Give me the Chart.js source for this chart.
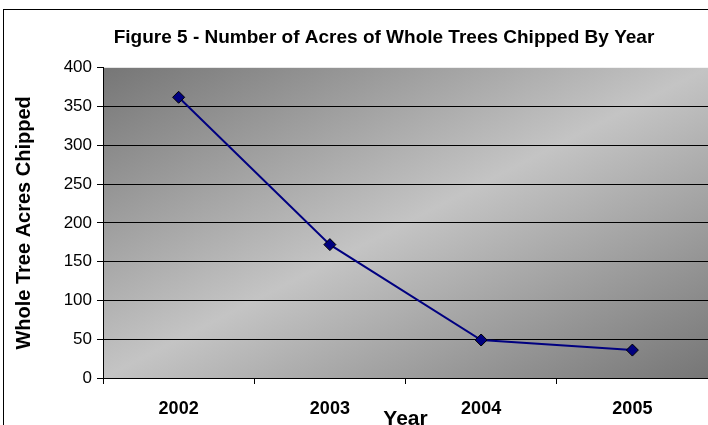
<!DOCTYPE html>
<html>
<head>
<meta charset="utf-8">
<script src="https://cdn.jsdelivr.net/npm/chart.js@4"></script>
<style>
  html, body { margin: 0; padding: 0; background: #fff; }
  #wrap { width: 708px; height: 425px; }
</style>
</head>
<body>
<div id="wrap"><canvas id="myChart" width="708" height="425"></canvas></div>
<script>
var years = ['2002', '2003', '2004', '2005'];
var acres = [362, 172, 49, 36];
var yTicks = [0, 50, 100, 150, 200, 250, 300, 350, 400];

var fontFamily = '"Liberation Sans", Arial, sans-serif';

// grey diagonal fill behind the plot + outer frame, title moved over
var chartDecor = {
  id: 'chartDecor',
  afterLayout: function (chart) {
    if (chart.titleBlock) {
      chart.titleBlock.left = 60;
      chart.titleBlock.right = 708;
    }
  },
  beforeDraw: function (chart) {
    var c = chart.ctx, a = chart.chartArea;
    c.save();
    c.translate(a.left, a.top);
    c.scale(a.right - a.left, a.bottom - a.top);
    var g = c.createLinearGradient(0, 0, 1, 1);
    g.addColorStop(0, '#767676');
    g.addColorStop(0.5, '#c4c4c4');
    g.addColorStop(1, '#767676');
    c.fillStyle = g;
    c.fillRect(0, 0, 1, 1);
    c.restore();

    c.save();
    c.strokeStyle = '#000';
    c.lineWidth = 1;
    c.strokeRect(3.5, 9.5, 900, 600);
    c.restore();
  }
};

var ctx = document.getElementById('myChart').getContext('2d');
var myChart = new Chart(ctx, {
  type: 'line',
  data: {
    labels: years,
    datasets: [{
      label: 'Acres',
      data: acres,
      borderColor: '#000080',
      backgroundColor: '#000080',
      borderWidth: 2,
      tension: 0,
      fill: false,
      pointStyle: 'rectRot',
      pointRadius: 6,
      pointBorderColor: '#000',
      pointBorderWidth: 1,
      pointBackgroundColor: '#000080'
    }]
  },
  options: {
    responsive: false,
    animation: false,
    layout: { padding: 0, autoPadding: false },
    plugins: {
      legend: { display: false },
      tooltip: { enabled: false },
      title: {
        display: true,
        text: 'Figure 5 - Number of Acres of Whole Trees Chipped By Year',
        color: '#000',
        font: { family: fontFamily, size: 19, weight: 'bold' },
        padding: { top: 26, bottom: 19 }
      }
    },
    scales: {
      x: {
        offset: true,
        afterFit: function (s) { s.height = 47; },
        grid: {
          drawOnChartArea: false,
          offset: true,
          tickLength: 6,
          tickColor: '#000'
        },
        border: { color: '#000', width: 1 },
        ticks: {
          color: '#000',
          padding: 14,
          font: { family: fontFamily, size: 18, weight: 'bold' }
        },
        title: {
          display: true,
          text: 'Year',
          color: '#000',
          font: { family: fontFamily, size: 21, weight: 'bold' },
          padding: { top: 0, bottom: -7 }
        }
      },
      y: {
        min: 0,
        max: 400,
        afterFit: function (s) { s.width = 103; },
        afterBuildTicks: function (s) {
          s.ticks = yTicks.map(function (v) { return { value: v }; });
        },
        grid: {
          color: function (c) { return c.tick && c.tick.value === 400 ? 'rgba(0,0,0,0)' : '#000'; },
          tickLength: 6,
          tickColor: '#000'
        },
        border: { color: '#000', width: 1 },
        ticks: {
          color: '#000',
          padding: 5,
          font: { family: fontFamily, size: 17 }
        },
        title: {
          display: true,
          text: 'Whole Tree Acres Chipped',
          color: '#000',
          font: { family: fontFamily, size: 20, weight: 'bold' },
          padding: { top: 12, bottom: 0 }
        }
      }
    }
  },
  plugins: [chartDecor]
});
</script>
</body>
</html>
